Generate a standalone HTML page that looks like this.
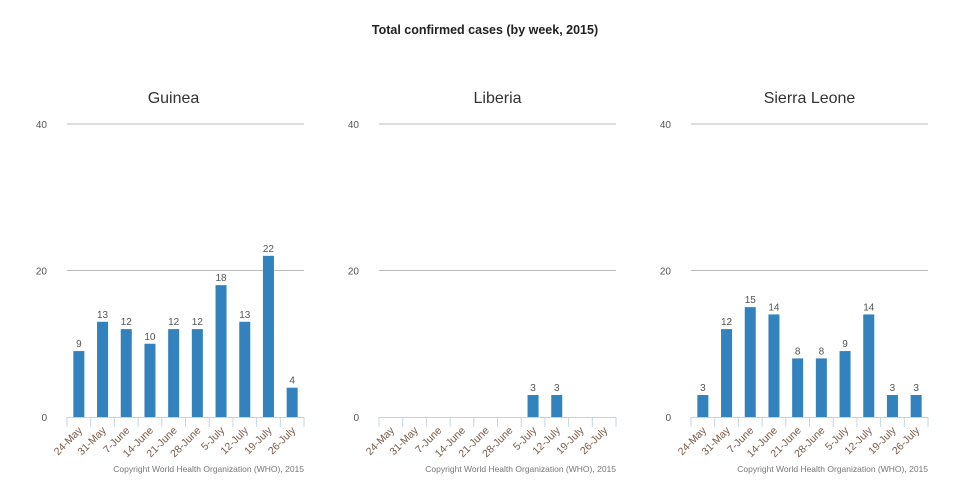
<!DOCTYPE html>
<html><head><meta charset="utf-8"><style>
body{margin:0;background:#fff;font-family:"Liberation Sans",sans-serif}
svg{display:block}
</style></head><body>
<svg id="c" width="954" height="484" xmlns="http://www.w3.org/2000/svg">
<text x="485" y="34" text-anchor="middle" font-size="12.5" font-weight="bold" fill="#222">Total confirmed cases (by week, 2015)</text>
</svg>
<script>
const categories=["24-May","31-May","7-June","14-June","21-June","28-June","5-July","12-July","19-July","26-July"];
const countries=["Guinea","Liberia","Sierra Leone"];
const guineaValues=[9,13,12,10,12,12,18,13,22,4];
const liberiaValues=[0,0,0,0,0,0,3,3,0,0];
const sierraLeoneValues=[3,12,15,14,8,8,9,14,3,3];
const yTicks=[0,20,40];
const series=[guineaValues,liberiaValues,sierraLeoneValues];
const NS="http://www.w3.org/2000/svg";
const svg=document.getElementById('c');
function mk(t,a,txt){const e=document.createElementNS(NS,t);for(const k in a)e.setAttribute(k,a[k]);if(txt!==undefined)e.textContent=txt;svg.appendChild(e);return e;}
const lefts=[67,379,691],W=237,y0=417,yTop=124,yMax=40;
const ys=v=>y0-(v/yMax)*(y0-yTop);
series.forEach((vals,p)=>{
  const L=lefts[p],step=W/categories.length;
  const xs=i=>L+step*i;
  let t=mk('text',{x:L+W/2-(p==0?12:0),y:103,'text-anchor':'middle','font-size':16,fill:'#333'},countries[p]);
  
  yTicks.forEach(v=>{
    let l=mk('text',{x:L-20,y:ys(v)+4,'text-anchor':'end','font-size':10,fill:'#555'},v);
    
    if(v>0){let g=mk('line',{x1:L,x2:L+W,y1:ys(v),y2:ys(v),stroke:'#bbb','stroke-width':1});
    }
  });
  let ax=mk('line',{x1:L,x2:L+W,y1:y0+0.5,y2:y0+0.5,stroke:'#c6d4e2','stroke-width':1});
  
  for(let i=0;i<=categories.length;i++){let tk=mk('line',{x1:xs(i),x2:xs(i),y1:y0,y2:y0+10,stroke:'#c6d4e2'});
    }
  categories.forEach((c,i)=>{
    const cx=xs(i)+step/2,v=vals[i];
    if(v>0){
      let b=mk('rect',{x:cx-5.5,y:ys(v),width:11,height:y0-ys(v),fill:'#3182bd'});
      
      let vl=mk('text',{x:cx,y:ys(v)-4,'text-anchor':'middle','font-size':10,fill:'#555'},v);
      
    }
    let xl=mk('text',{x:cx+4,y:y0+14,'text-anchor':'end','font-size':10.5,fill:'#7a5a48',transform:`rotate(-45 ${cx+4} ${y0+14})`},c);
    
  });
  let cp=mk('text',{x:L+W,y:472,'text-anchor':'end','font-size':8.5,fill:'#777'},'Copyright World Health Organization (WHO), 2015');
  
});
</script>
</body></html>
